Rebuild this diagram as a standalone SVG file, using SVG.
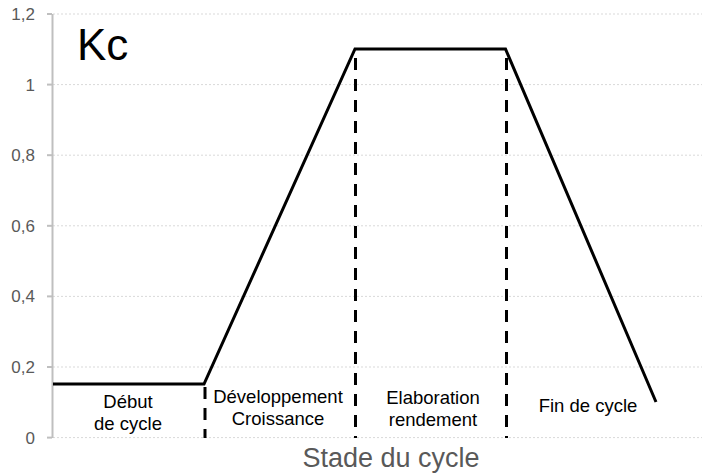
<svg xmlns="http://www.w3.org/2000/svg" width="702" height="474" viewBox="0 0 702 474">
<style>
.grid{stroke:#d9d9d9;stroke-width:1;stroke-dasharray:2 2;fill:none}
.axis{stroke:#bfbfbf;stroke-width:2;fill:none}
.tick{font-family:"Liberation Sans",Arial,sans-serif;font-size:17px;fill:#595959;text-anchor:end}
.lbl{font-family:"Liberation Sans",Arial,sans-serif;font-size:18.5px;fill:#000;text-anchor:middle}
.dash{stroke:#000;stroke-width:3;stroke-dasharray:12 9;fill:none}
.data{stroke:#000;stroke-width:3;fill:none;stroke-linejoin:miter}
</style>
<rect width="702" height="474" fill="#fff"/>
<g id="grid">
<line class="grid" x1="53" y1="14" x2="702" y2="14"/>
<line class="grid" x1="53" y1="84.6" x2="702" y2="84.6"/>
<line class="grid" x1="53" y1="155.2" x2="702" y2="155.2"/>
<line class="grid" x1="53" y1="225.8" x2="702" y2="225.8"/>
<line class="grid" x1="53" y1="296.4" x2="702" y2="296.4"/>
<line class="grid" x1="53" y1="367" x2="702" y2="367"/>
<line class="grid" x1="53" y1="437.6" x2="702" y2="437.6"/>
</g>
<g id="axis">
<line class="axis" x1="52.5" y1="14" x2="52.5" y2="438"/>
<line class="axis" x1="47" y1="14" x2="52" y2="14"/>
<line class="axis" x1="47" y1="84.6" x2="52" y2="84.6"/>
<line class="axis" x1="47" y1="155.2" x2="52" y2="155.2"/>
<line class="axis" x1="47" y1="225.8" x2="52" y2="225.8"/>
<line class="axis" x1="47" y1="296.4" x2="52" y2="296.4"/>
<line class="axis" x1="47" y1="367" x2="52" y2="367"/>
<line class="axis" x1="47" y1="437.6" x2="52" y2="437.6"/>
<text class="tick" x="35" y="20">1,2</text>
<text class="tick" x="35" y="90.5">1</text>
<text class="tick" x="35" y="161">0,8</text>
<text class="tick" x="35" y="231.5">0,6</text>
<text class="tick" x="35" y="302">0,4</text>
<text class="tick" x="35" y="373">0,2</text>
<text class="tick" x="35" y="443.5">0</text>
</g>
<g id="connectors">
<line class="dash" x1="205" y1="387" x2="205" y2="438"/>
<line class="dash" x1="355.5" y1="58" x2="355.5" y2="438"/>
<line class="dash" x1="506.5" y1="58" x2="506.5" y2="438"/>
<polyline class="data" points="53,384 204,384 355,49 505.5,49 656,402"/>
</g>
<g id="title"><text x="77" y="60" font-family="Liberation Sans,Arial,sans-serif" font-size="44" fill="#000">Kc</text></g>
<g id="stage1"><text class="lbl" x="128" y="408">Début</text><text class="lbl" x="128" y="430">de cycle</text></g>
<g id="stage2"><text class="lbl" x="278" y="403">Développement</text><text class="lbl" x="278" y="425">Croissance</text></g>
<g id="stage3"><text class="lbl" x="433" y="404">Elaboration</text><text class="lbl" x="433" y="426">rendement</text></g>
<g id="stage4"><text class="lbl" x="588" y="412">Fin de cycle</text></g>
<g id="xlabel"><text x="391" y="467" text-anchor="middle" font-family="Liberation Sans,Arial,sans-serif" font-size="27" fill="#595959">Stade du cycle</text></g>
</svg>
